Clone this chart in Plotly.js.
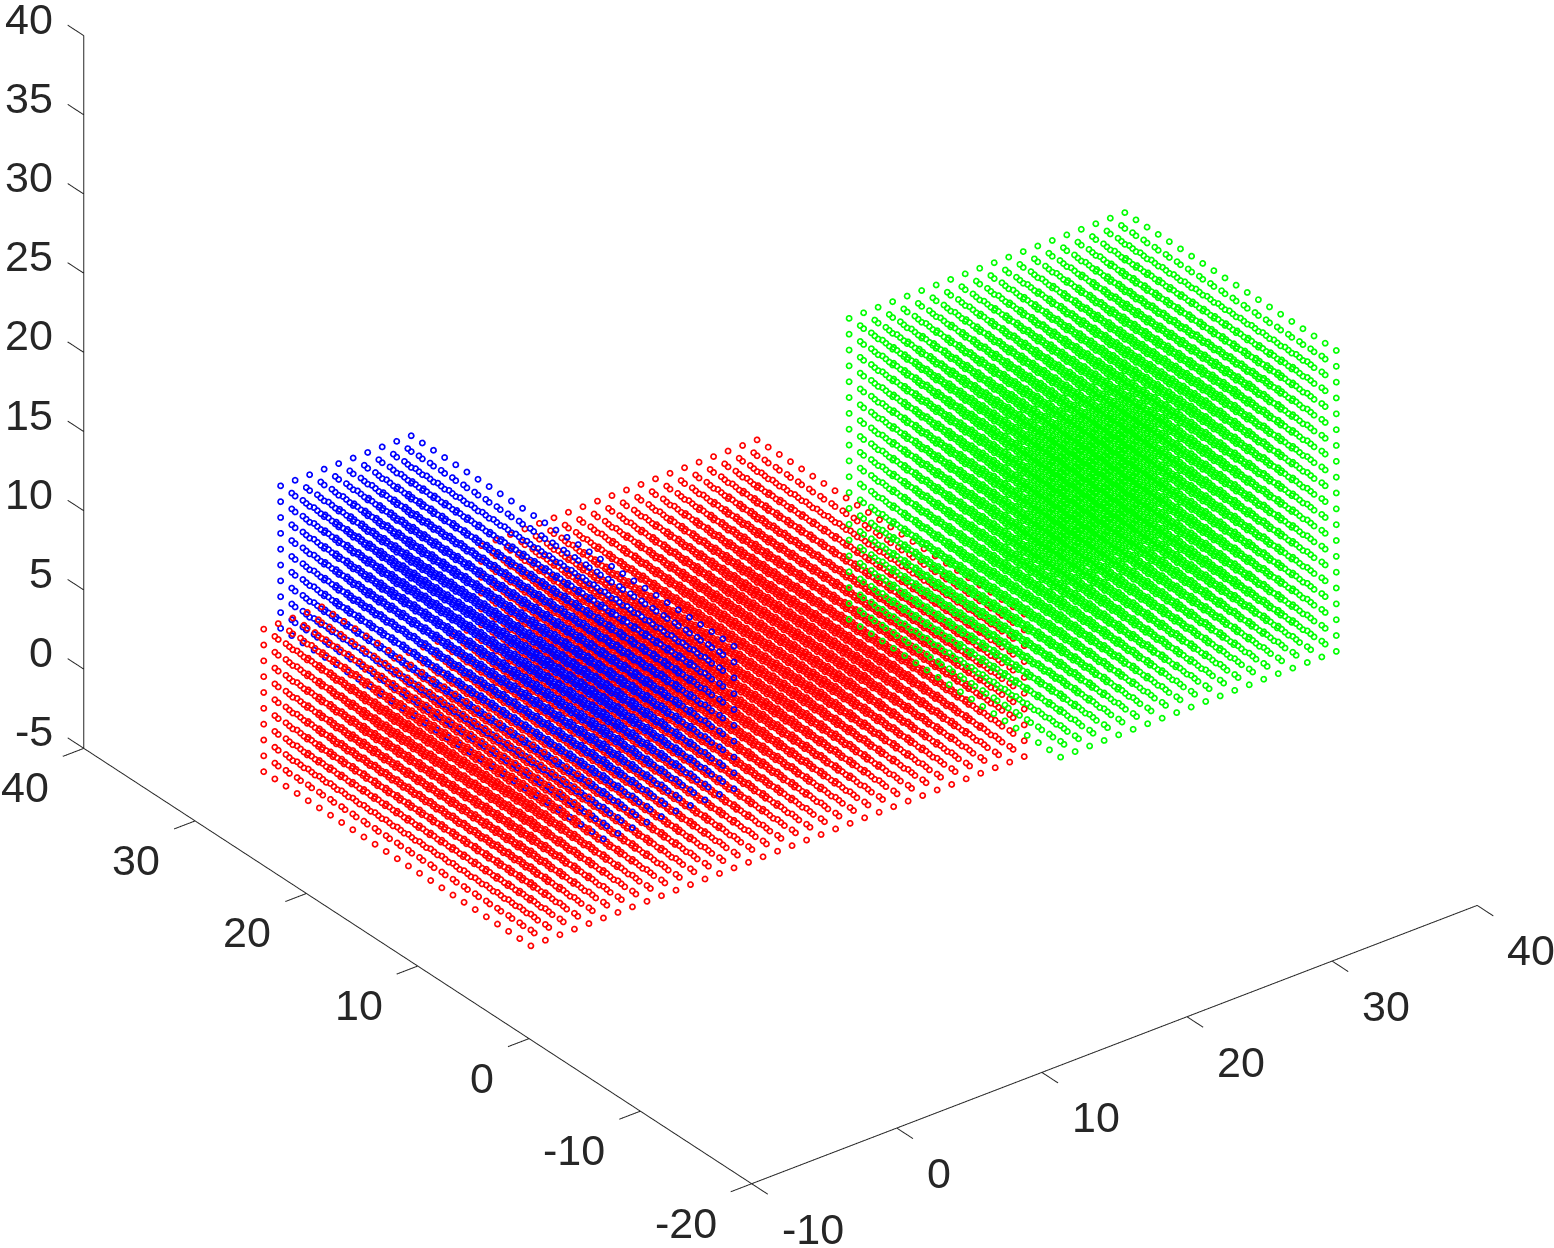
<!DOCTYPE html>
<html><head><meta charset="utf-8">
<script src="https://cdn.plot.ly/plotly-3.0.1.min.js"></script>
<style>html,body{margin:0;padding:0;background:#fff}#c{width:1554px;height:1248px}</style>
</head><body><div id="c"></div>
<script>
const redX=[-3.75,-2.75,-1.75,-0.75,0.25,1.25,2.25,3.25,4.25,5.25,6.25,7.25,8.25,9.25,10.25,11.25,12.25,13.25,14.25,15.25,16.25,17.25,18.25,19.25,20.25,21.25,22.25,23.25,24.25,25.25,26.25,27.25,28.25,29.25,30.25];
const redY=[8,9,10,11,12,13,14,15,16,17,18,19,20,21,22,23,24,25,26,27,28,29,30,31,32];
const redZ=[-5,-4,-3,-2,-1,0,1,2,3,4];
const blueX=[1.25,2.25,3.25,4.25,5.25,6.25,7.25,8.25,9.25,10.25];
const blueY=[8,9,10,11,12,13,14,15,16,17,18,19,20,21,22,23,24,25,26,27,28,29,30,31,32,33,34,35,36,37];
const blueZ=[0,1,2,3,4,5,6,7,8,9];
const greenX=[21.25,22.25,23.25,24.25,25.25,26.25,27.25,28.25,29.25,30.25,31.25,32.25,33.25,34.25,35.25,36.25,37.25,38.25,39.25,40.25];
const greenY=[-7,-6,-5,-4,-3,-2,-1,0,1,2,3,4,5,6,7,8,9,10,11,12];
const greenZ=[5,6,7,8,9,10,11,12,13,14,15,16,17,18,19,20,21,22,23,24];
const xTicks=[-10,0,10,20,30,40];
const yTicks=[-20,-10,0,10,20,30,40];
const zTicks=[-5,0,5,10,15,20,25,30,35,40];
const tickLen=1.45;
function lattice(xs,ys,zs,color,size){
  const x=[],y=[],z=[];
  for(const a of xs)for(const b of ys)for(const c of zs){x.push(a);y.push(b);z.push(c);}
  return {type:'scatter3d',mode:'markers',x,y,z,hoverinfo:'skip',showlegend:false,
    marker:{symbol:'circle-open',size:size,color:color,line:{color:color,width:2}}};
}
function axisLines(){
  const x=[],y=[],z=[];
  const seg=(a,b)=>{x.push(a[0],b[0],null);y.push(a[1],b[1],null);z.push(a[2],b[2],null);};
  seg([-10,-20,-5],[40,-20,-5]);
  seg([-10,-20,-5],[-10,40,-5]);
  seg([-10,40,-5],[-10,40,40]);
  for(const t of xTicks)seg([t,-20,-5],[t,-20-tickLen,-5]);
  for(const t of yTicks)seg([-10,t,-5],[-10-tickLen,t,-5]);
  for(const t of zTicks)seg([-10,40,t],[-10,40+tickLen,t]);
  return {type:'scatter3d',mode:'lines',x,y,z,connectgaps:false,hoverinfo:'skip',showlegend:false,line:{color:'#262626',width:2}};
}
const font={family:'"Liberation Sans",Arial,sans-serif',size:43,color:'#262626'};
const ann=[];
for(const t of xTicks)ann.push({x:t,y:-20,z:-5,text:String(t),showarrow:false,xanchor:'left',yanchor:'middle',xshift:28,yshift:-45,font});
for(const t of yTicks)ann.push({x:-10,y:t,z:-5,text:String(t),showarrow:false,xanchor:'right',yanchor:'middle',xshift:-33,yshift:-39,font});
for(const t of zTicks)ann.push({x:-10,y:40,z:t,text:String(t),showarrow:false,xanchor:'right',yanchor:'middle',xshift:-29,yshift:17,font});
const ax=(r,tv)=>({range:r,tickmode:'array',tickvals:tv,showticklabels:false,title:{text:''},showgrid:false,zeroline:false,
  showbackground:false,showspikes:false,showline:false,ticks:''});
const xRange=[-12,41],yRange=[-22,42],zRange=[-6,41];
const k=4, d=[-0.527,-0.687,0.5], scale=1.762*0.998;
const perUnit=scale/60;
const ctr=[-0.00446+0.5*perUnit,0.00343,-0.284];
const layout={width:1554,height:1248,margin:{l:0,r:0,t:0,b:0},paper_bgcolor:'#fff',showlegend:false,
  scene:{domain:{x:[0,1],y:[0,1]},
    xaxis:ax(xRange,xTicks),yaxis:ax(yRange,yTicks),zaxis:ax(zRange,zTicks),
    aspectmode:'manual',aspectratio:{x:perUnit*(xRange[1]-xRange[0]),y:perUnit*(yRange[1]-yRange[0]),z:perUnit*(zRange[1]-zRange[0])},
    camera:{projection:{type:'orthographic'},center:{x:ctr[0],y:ctr[1],z:ctr[2]},up:{x:0,y:0,z:1},eye:{x:k*d[0]+ctr[0],y:k*d[1]+ctr[1],z:k*d[2]+ctr[2]}},
    annotations:ann}};
const traces=[];
for(const size of [3.6,2.8]){
  traces.push(lattice(redX,redY,redZ,'#ff0000',size),lattice(blueX,blueY,blueZ,'#0000ff',size),lattice(greenX,greenY,greenZ,'#00ff00',size));
}
traces.push(axisLines());
Plotly.newPlot('c',traces,layout,{displayModeBar:false});
</script></body></html>
